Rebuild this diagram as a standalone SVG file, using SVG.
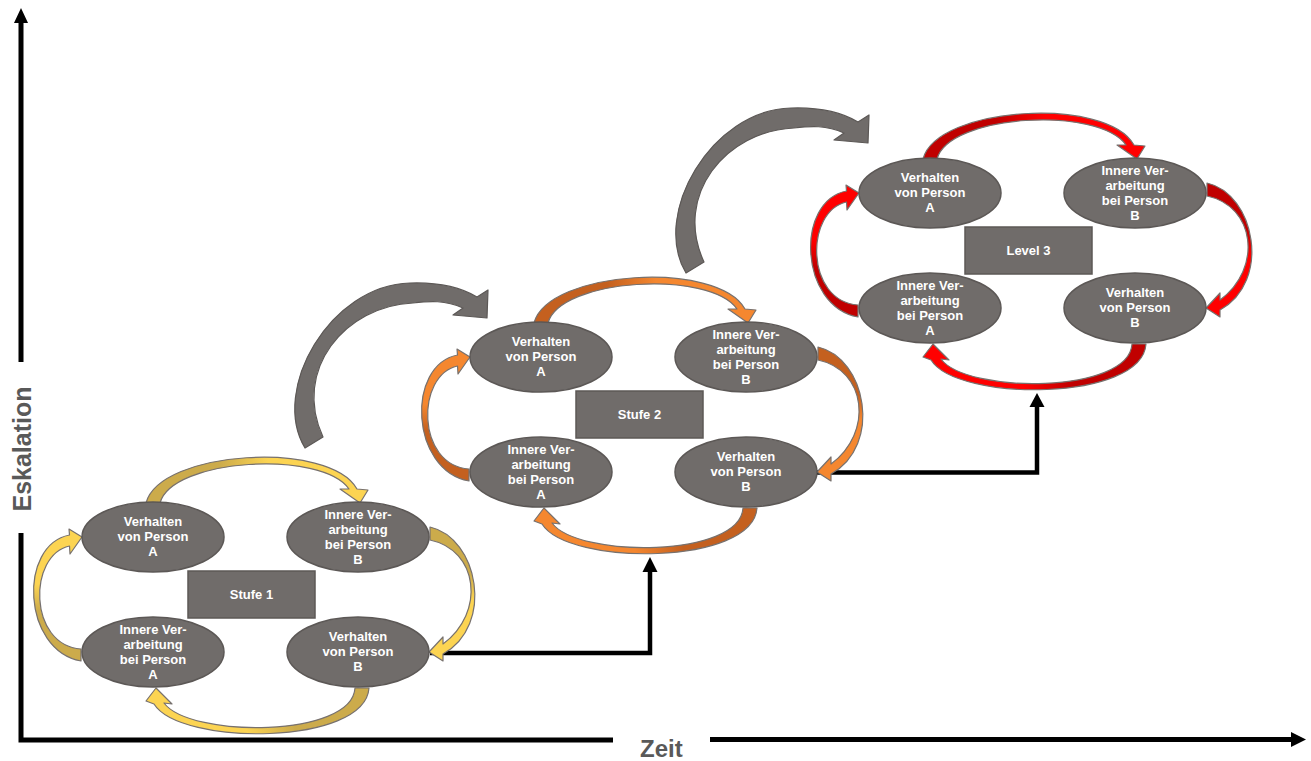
<svg xmlns="http://www.w3.org/2000/svg" width="1311" height="761" viewBox="0 0 1311 761">
<style>
.node ellipse{fill:#706c6a;stroke:#5c5856;stroke-width:1.5}
.node rect{fill:#706c6a;stroke:#5c5856;stroke-width:1.5}
.node text{font-family:"Liberation Sans",Arial,sans-serif;font-weight:bold;font-size:13px;fill:#ffffff;text-anchor:middle}
.cv{stroke:#77716e;stroke-width:1.2;stroke-linejoin:round}
.big{fill:#706c6a;stroke:#5c5856;stroke-width:1.2;stroke-linejoin:round}
.blk{fill:none;stroke:#000;stroke-width:4.5}
.axis{fill:none;stroke:#000;stroke-width:5}
.lbl{font-family:"Liberation Sans",Arial,sans-serif;font-weight:bold;fill:#595959}
</style>
<defs>
<linearGradient id="yT" x1="0" y1="0" x2="1" y2="0"><stop offset="0" stop-color="#ccab4b"/><stop offset="0.33" stop-color="#ccab4b"/><stop offset="0.55" stop-color="#fcd452"/><stop offset="1" stop-color="#fcd452"/></linearGradient>
<linearGradient id="yR" x1="0" y1="0" x2="0" y2="1"><stop offset="0" stop-color="#ccab4b"/><stop offset="0.35" stop-color="#ccab4b"/><stop offset="0.55" stop-color="#fcd452"/><stop offset="1" stop-color="#fcd452"/></linearGradient>
<linearGradient id="yB" x1="1" y1="0" x2="0" y2="0"><stop offset="0" stop-color="#ccab4b"/><stop offset="0.33" stop-color="#ccab4b"/><stop offset="0.55" stop-color="#fcd452"/><stop offset="1" stop-color="#fcd452"/></linearGradient>
<linearGradient id="yL" x1="0" y1="1" x2="0" y2="0"><stop offset="0" stop-color="#ccab4b"/><stop offset="0.38" stop-color="#ccab4b"/><stop offset="0.58" stop-color="#fcd452"/><stop offset="1" stop-color="#fcd452"/></linearGradient>
<linearGradient id="oT" x1="0" y1="0" x2="1" y2="0"><stop offset="0" stop-color="#c4601f"/><stop offset="0.33" stop-color="#c4601f"/><stop offset="0.55" stop-color="#f5872f"/><stop offset="1" stop-color="#f5872f"/></linearGradient>
<linearGradient id="oR" x1="0" y1="0" x2="0" y2="1"><stop offset="0" stop-color="#c4601f"/><stop offset="0.35" stop-color="#c4601f"/><stop offset="0.55" stop-color="#f5872f"/><stop offset="1" stop-color="#f5872f"/></linearGradient>
<linearGradient id="oB" x1="1" y1="0" x2="0" y2="0"><stop offset="0" stop-color="#c4601f"/><stop offset="0.33" stop-color="#c4601f"/><stop offset="0.55" stop-color="#f5872f"/><stop offset="1" stop-color="#f5872f"/></linearGradient>
<linearGradient id="oL" x1="0" y1="1" x2="0" y2="0"><stop offset="0" stop-color="#c4601f"/><stop offset="0.38" stop-color="#c4601f"/><stop offset="0.58" stop-color="#f5872f"/><stop offset="1" stop-color="#f5872f"/></linearGradient>
<linearGradient id="rT" x1="0" y1="0" x2="1" y2="0"><stop offset="0" stop-color="#c00000"/><stop offset="0.33" stop-color="#c00000"/><stop offset="0.55" stop-color="#ff0000"/><stop offset="1" stop-color="#ff0000"/></linearGradient>
<linearGradient id="rR" x1="0" y1="0" x2="0" y2="1"><stop offset="0" stop-color="#c00000"/><stop offset="0.35" stop-color="#c00000"/><stop offset="0.55" stop-color="#ff0000"/><stop offset="1" stop-color="#ff0000"/></linearGradient>
<linearGradient id="rB" x1="1" y1="0" x2="0" y2="0"><stop offset="0" stop-color="#c00000"/><stop offset="0.33" stop-color="#c00000"/><stop offset="0.55" stop-color="#ff0000"/><stop offset="1" stop-color="#ff0000"/></linearGradient>
<linearGradient id="rL" x1="0" y1="1" x2="0" y2="0"><stop offset="0" stop-color="#c00000"/><stop offset="0.38" stop-color="#c00000"/><stop offset="0.58" stop-color="#ff0000"/><stop offset="1" stop-color="#ff0000"/></linearGradient>
<path id="aTop" d="M146,503 C160,450 330,440 357,489 L368,490 L360,503 L340,489 L349,489 C322,450 172,458 160,503 Z"/>
<path id="aRight" d="M430,527 C478,538 495,625 443,654 L443,661 L429,652 L443,637 L443,644 C486,612 478,550 430,540 Z"/>
<path id="aBottom" d="M355,688 C352,738 190,738 164,703 L172,704 L156,688 L146,701 L154,704 C180,746 365,746 369,688 Z"/>
<path id="aLeft" d="M81,661 C22,650 18,545 69.5,535 L69,529 L82,537 L70,554 L69.5,546 C28,555 28,645 81,649 Z"/>
<path id="bigArrow" d="M305,448 C270,390 330,285 410,283 C440,282 462,288 477,297 L488,290 L487,318 L453,315 L463,308 C445,300 430,301 413,303 C345,306 292,370 323,437 Z"/>
</defs>

<g id="axes">
<path class="axis" d="M21,362 V22"/>
<polygon points="21,8 28,23 14,23" fill="#000"/>
<path class="axis" d="M21,533 V740 H613"/>
<path class="axis" d="M710,739.5 H1292"/>
<polygon points="1306,739.5 1291,732 1291,747" fill="#000"/>
<text class="lbl" font-size="25" text-anchor="middle" transform="translate(31,449) rotate(-90)">Eskalation</text>
<text class="lbl" font-size="24" x="640" y="757">Zeit</text>
</g>

<g id="connectors">
<path class="blk" d="M430,653 H650 V571"/>
<polygon points="650,557 657.5,572 642.5,572" fill="#000"/>
<path class="blk" d="M817,472.5 H1037 V406"/>
<polygon points="1037,393 1044.5,407 1029.5,407" fill="#000"/>
<use href="#bigArrow" class="big"/>
<use href="#bigArrow" class="big" transform="translate(381,-175)"/>
<g id="loop1">
<use href="#aTop" class="cv" fill="url(#yT)"/>
<use href="#aRight" class="cv" fill="url(#yR)"/>
<use href="#aBottom" class="cv" fill="url(#yB)"/>
<use href="#aLeft" class="cv" fill="url(#yL)"/>
</g>
<g id="loop2" transform="translate(388,-180)">
<use href="#aTop" class="cv" fill="url(#oT)"/>
<use href="#aRight" class="cv" fill="url(#oR)"/>
<use href="#aBottom" class="cv" fill="url(#oB)"/>
<use href="#aLeft" class="cv" fill="url(#oL)"/>
</g>
<g id="loop3" transform="translate(777,-344)">
<use href="#aTop" class="cv" fill="url(#rT)"/>
<use href="#aRight" class="cv" fill="url(#rR)"/>
<use href="#aBottom" class="cv" fill="url(#rB)"/>
<use href="#aLeft" class="cv" fill="url(#rL)"/>
</g>
</g>

<g id="stage1">
<g id="s1-verhalten-a" class="node"><ellipse cx="153" cy="537" rx="71" ry="35"/><text x="153" y="526">Verhalten</text><text x="153" y="541">von Person</text><text x="153" y="556">A</text></g>
<g id="s1-innere-b" class="node"><ellipse cx="358" cy="537" rx="71" ry="35"/><text x="358" y="519">Innere Ver-</text><text x="358" y="534">arbeitung</text><text x="358" y="549">bei Person</text><text x="358" y="564">B</text></g>
<g id="s1-innere-a" class="node"><ellipse cx="153" cy="652" rx="71" ry="35"/><text x="153" y="634">Innere Ver-</text><text x="153" y="649">arbeitung</text><text x="153" y="664">bei Person</text><text x="153" y="679">A</text></g>
<g id="s1-verhalten-b" class="node"><ellipse cx="358" cy="652" rx="71" ry="35"/><text x="358" y="641">Verhalten</text><text x="358" y="656">von Person</text><text x="358" y="671">B</text></g>
<g id="s1-label" class="node"><rect x="188" y="571" width="127" height="47"/><text x="251.5" y="599">Stufe 1</text></g>
</g>

<g id="stage2" transform="translate(388,-180)">
<g id="s2-verhalten-a" class="node"><ellipse cx="153" cy="537" rx="71" ry="35"/><text x="153" y="526">Verhalten</text><text x="153" y="541">von Person</text><text x="153" y="556">A</text></g>
<g id="s2-innere-b" class="node"><ellipse cx="358" cy="537" rx="71" ry="35"/><text x="358" y="519">Innere Ver-</text><text x="358" y="534">arbeitung</text><text x="358" y="549">bei Person</text><text x="358" y="564">B</text></g>
<g id="s2-innere-a" class="node"><ellipse cx="153" cy="652" rx="71" ry="35"/><text x="153" y="634">Innere Ver-</text><text x="153" y="649">arbeitung</text><text x="153" y="664">bei Person</text><text x="153" y="679">A</text></g>
<g id="s2-verhalten-b" class="node"><ellipse cx="358" cy="652" rx="71" ry="35"/><text x="358" y="641">Verhalten</text><text x="358" y="656">von Person</text><text x="358" y="671">B</text></g>
<g id="s2-label" class="node"><rect x="188" y="571" width="127" height="47"/><text x="251.5" y="599">Stufe 2</text></g>
</g>

<g id="stage3" transform="translate(777,-344)">
<g id="s3-verhalten-a" class="node"><ellipse cx="153" cy="537" rx="71" ry="35"/><text x="153" y="526">Verhalten</text><text x="153" y="541">von Person</text><text x="153" y="556">A</text></g>
<g id="s3-innere-b" class="node"><ellipse cx="358" cy="537" rx="71" ry="35"/><text x="358" y="519">Innere Ver-</text><text x="358" y="534">arbeitung</text><text x="358" y="549">bei Person</text><text x="358" y="564">B</text></g>
<g id="s3-innere-a" class="node"><ellipse cx="153" cy="652" rx="71" ry="35"/><text x="153" y="634">Innere Ver-</text><text x="153" y="649">arbeitung</text><text x="153" y="664">bei Person</text><text x="153" y="679">A</text></g>
<g id="s3-verhalten-b" class="node"><ellipse cx="358" cy="652" rx="71" ry="35"/><text x="358" y="641">Verhalten</text><text x="358" y="656">von Person</text><text x="358" y="671">B</text></g>
<g id="s3-label" class="node"><rect x="188" y="571" width="127" height="47"/><text x="251.5" y="599">Level 3</text></g>
</g>
</svg>
